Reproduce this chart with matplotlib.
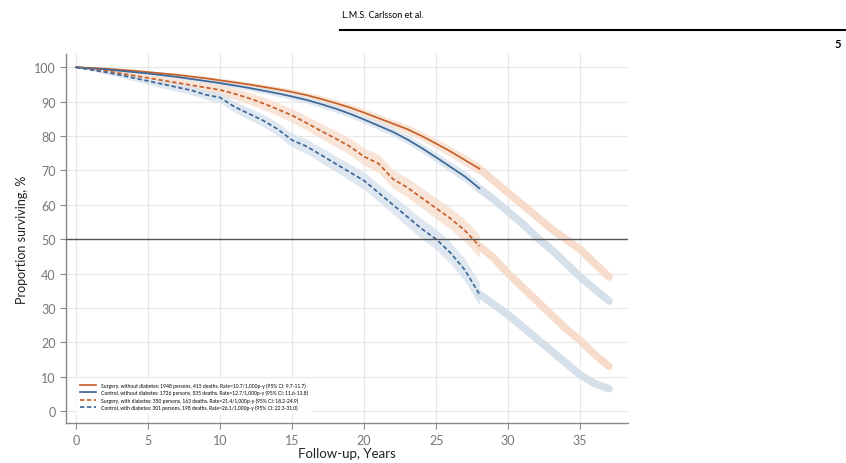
import numpy as np
import matplotlib
matplotlib.use("Agg")
import matplotlib.pyplot as plt

# observed follow-up, years 0..28
years = list(range(0, 29))
surg_nodm = [100, 99.8, 99.6, 99.3, 99.0, 98.6, 98.2, 97.8, 97.3, 96.8, 96.2, 95.6, 95.0, 94.3,
             93.6, 92.8, 91.9, 90.8, 89.6, 88.3, 86.8, 85.2, 83.6, 82.0, 80.0, 77.8, 75.5, 73.0, 70.5]
ctrl_nodm = [100, 99.7, 99.4, 99.0, 98.6, 98.2, 97.7, 97.2, 96.6, 96.0, 95.4, 94.7, 94.0, 93.2,
             92.4, 91.5, 90.5, 89.3, 88.0, 86.5, 84.8, 83.0, 81.2, 79.0, 76.5, 73.8, 71.0, 68.2, 64.8]
surg_dm = [100, 99.5, 99.0, 98.3, 97.6, 96.9, 96.2, 95.5, 94.8, 94.1, 93.4, 92.3, 91.0, 89.5,
           87.8, 86.0, 83.8, 81.5, 79.3, 77.0, 74.0, 72.0, 67.5, 65.0, 62.0, 59.0, 56.0, 52.5, 48.0]
ctrl_dm = [100, 99.3, 98.6, 97.8, 96.9, 96.0, 95.1, 94.2, 93.3, 92.0, 91.2, 88.5, 86.5, 84.5,
           82.0, 78.8, 77.0, 74.5, 72.0, 69.5, 67.0, 63.5, 60.0, 56.5, 53.0, 50.0, 46.0, 41.0, 34.0]

# predicted survival, years 28..37
pred_years = list(range(28, 38))
pred_surg_nodm = [70.5, 67.0, 63.5, 60.0, 56.5, 53.0, 50.0, 47.0, 43.0, 39.0]
pred_ctrl_nodm = [64.8, 61.5, 58.0, 54.5, 50.5, 47.0, 43.0, 39.0, 35.5, 32.0]
pred_surg_dm = [48.0, 44.5, 40.0, 36.0, 32.0, 28.0, 24.0, 20.5, 16.5, 13.0]
pred_ctrl_dm = [34.0, 31.0, 28.0, 24.5, 21.0, 17.5, 14.0, 10.5, 8.0, 6.5]

# half-width of the confidence band at each year
ci_nodm = [0.0, 0.1, 0.2, 0.3, 0.3, 0.4, 0.4, 0.5, 0.5, 0.6, 0.6, 0.7, 0.7, 0.8, 0.8,
           0.9, 0.9, 1.0, 1.0, 1.1, 1.1, 1.2, 1.2, 1.3, 1.3, 1.4, 1.5, 1.6, 1.7]
ci_dm = [0.0, 0.3, 0.5, 0.7, 0.8, 1.0, 1.1, 1.2, 1.3, 1.4, 1.5, 1.6, 1.7, 1.8, 1.9,
         2.0, 2.1, 2.2, 2.3, 2.4, 2.5, 2.6, 2.7, 2.8, 2.9, 3.0, 3.1, 3.2, 3.3]

labels = [
    "Surgery, without diabetes: 1948 persons, 415 deaths. Rate=10.7/1,000p-y (95% CI: 9.7-11.7)",
    "Control, without diabetes: 1726 persons, 535 deaths. Rate=12.7/1,000p-y (95% CI: 11.6-13.8)",
    "Surgery, with diabetes: 350 persons, 163 deaths. Rate=21.4/1,000p-y (95% CI: 18.2-24.9)",
    "Control, with diabetes: 301 persons, 198 deaths. Rate=26.1/1,000p-y (95% CI: 22.3-31.0)",
]

ORANGE = "#c8602a"
BLUE = "#3c6796"
ORANGE_L = "#f8dccb"
BLUE_L = "#d5e0eb"

plt.rcParams['font.family'] = ['Lato', 'DejaVu Sans']

fig = plt.figure(figsize=(8.46, 4.64), dpi=100)
ax = fig.add_axes([0.078, 0.086, 0.664, 0.795])

x = np.array(years)
series = [
    (surg_nodm, pred_surg_nodm, ci_nodm, ORANGE, ORANGE_L, "-"),
    (ctrl_nodm, pred_ctrl_nodm, ci_nodm, BLUE, BLUE_L, "-"),
    (surg_dm, pred_surg_dm, ci_dm, ORANGE, ORANGE_L, (0, (2.5, 1.5))),
    (ctrl_dm, pred_ctrl_dm, ci_dm, BLUE, BLUE_L, (0, (2.5, 1.5))),
]

# predicted curves first, drawn wide and pale
for obs, pred, ci, c, cl, ls in series:
    ax.plot(pred_years, pred, color=cl, lw=5.5, solid_capstyle='round', zorder=2)

for i, (obs, pred, ci, c, cl, ls) in enumerate(series):
    y = np.array(obs)
    e = np.array(ci)
    ax.fill_between(x, y - e, y + e, color=cl, alpha=0.75, lw=0, zorder=3)
    ax.plot(x, y, color=c, lw=1.25, ls=ls, zorder=4, label=labels[i])

ax.axhline(50, color="#555555", lw=1.0, zorder=5)

ax.set_xlim(-0.7, 38.3)
ax.set_ylim(-3.5, 103.8)
ax.set_xticks(range(0, 40, 5))
ax.set_yticks(range(0, 101, 10))
ax.grid(True, color="#e8e8e8", lw=0.9, zorder=0)
ax.set_axisbelow(True)

for s in ["top", "right"]:
    ax.spines[s].set_visible(False)
for s in ["left", "bottom"]:
    ax.spines[s].set_color("#888888")
    ax.spines[s].set_linewidth(1.0)
ax.tick_params(colors="#888888", labelcolor="#777777", labelsize=9, length=4)

ax.set_ylabel("Proportion surviving, %", fontsize=9, color="#222222", labelpad=4)
ax.set_xlabel("Follow-up, Years", fontsize=9.5, color="#222222", labelpad=1)

leg = ax.legend(loc="upper left", bbox_to_anchor=(76 / 846, 1 - 379 / 464),
                bbox_transform=fig.transFigure, borderaxespad=0, fontsize=3.6, frameon=True,
                handlelength=3.2, handletextpad=1.0, labelspacing=0.4, borderpad=0.8)
leg.get_frame().set_edgecolor("none")
leg.get_frame().set_facecolor("white")
leg.get_frame().set_alpha(0.9)

# page header
fig.text(342 / 846, 1 - 15 / 464, "L.M.S. Carlsson et al.", fontsize=6.5, va="center", ha="left")
fig.add_artist(plt.Line2D([340 / 846, 1.0], [1 - 31 / 464, 1 - 31 / 464], color="black", lw=1.5))
fig.text(838 / 846, 1 - 45 / 464, "5", fontsize=8, fontweight="bold", va="center", ha="center")

fig.savefig("out.png", dpi=100)
